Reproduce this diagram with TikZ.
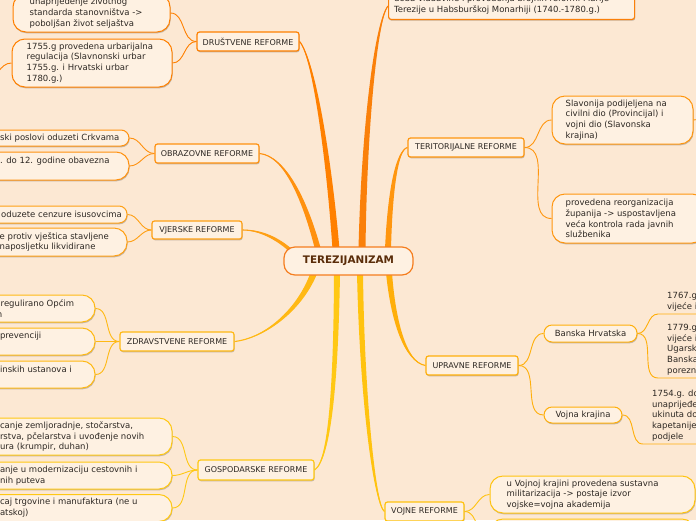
\documentclass[tikz,border=0pt]{standalone}
\usepackage{fontspec}
\setmainfont{DejaVu Sans}
\usetikzlibrary{calc,shadows}
\pgfdeclarelayer{back}
\pgfdeclarelayer{links}
\pgfsetlayers{back,links,main}
\definecolor{bgc}{RGB}{252,232,211}
\definecolor{boxfill}{RGB}{254,241,226}
\definecolor{txt}{RGB}{45,40,35}
\definecolor{ctxt}{RGB}{90,45,10}
\definecolor{cOr}{RGB}{245,125,30}
\definecolor{cDru}{RGB}{255,128,0}
\definecolor{cTop}{RGB}{250,128,10}
\definecolor{cObr}{RGB}{255,145,15}
\definecolor{cVje}{RGB}{255,160,20}
\definecolor{cTer}{RGB}{255,150,15}
\definecolor{cZdr}{RGB}{255,185,20}
\definecolor{cUpr}{RGB}{255,175,10}
\definecolor{cGos}{RGB}{255,200,20}
\definecolor{cVoj}{RGB}{255,195,15}
\tikzset{
  shadowed/.style={drop shadow={shadow xshift=0.6pt, shadow yshift=-1.3pt, opacity=0.22, fill=black}},
  mainbox/.style={draw=#1, line width=1.2pt, rounded corners=2.5pt, fill=boxfill, text=txt,
    font=\fontsize{8}{10}\selectfont, inner sep=0pt, shadowed},
  kidbox/.style={draw=#1, line width=1pt, rounded corners=13pt, fill=boxfill, inner sep=0pt, shadowed},
  pill/.style={draw=#1, line width=1pt, rounded corners=8pt, fill=boxfill, inner sep=0pt, shadowed,
    text=txt, font=\fontsize{8.5}{10.8}\selectfont},
  lbl/.style={anchor=west, inner sep=0pt, align=left, text=txt, font=\fontsize{8.5}{10.8}\selectfont},
  ulnode/.style={inner xsep=9pt, inner ysep=2.5pt, align=left, text=txt,
    font=\fontsize{8.5}{10.8}\selectfont, anchor=south west},
  conn/.style={draw=#1, line width=0.9pt},
}
% tapered branch: colour, root, control 1, control 2, end, half-width offset
\newcommand{\taper}[6]{%
  \fill[#1] ($(#2)+#6$) .. controls ($(#3)+0.8*#6$) and ($(#4)+0.4*#6$) .. (#5)
     .. controls ($(#4)-0.4*#6$) and ($(#3)-0.8*#6$) .. ($(#2)-#6$) -- cycle;
  \draw[#1, line width=1.1pt] (#2) .. controls (#3) and (#4) .. (#5);}
\begin{document}
\begin{tikzpicture}[x=1pt,y=-1pt]
\useasboundingbox (0,0) rectangle (696,520);
\begin{pgfonlayer}{back}
\fill[bgc] (0,0) rectangle (696,520);
\end{pgfonlayer}
\clip (0,0) rectangle (696,520);

% central
\node[draw=cOr, line width=1.2pt, rounded corners=11pt, fill=boxfill, minimum width=129pt,
  minimum height=28pt, inner sep=0pt, text=ctxt, font=\fontsize{10.4}{12}\selectfont\bfseries]
  (c) at (348.5,261) {TEREZIJANIZAM};

% main nodes
\node[mainbox=cDru, minimum width=102pt, minimum height=19pt] (dru) at (248,41.5) {DRUŠTVENE REFORME};
\node[mainbox=cObr, minimum width=104pt, minimum height=19pt] (obr) at (207,153.5) {OBRAZOVNE REFORME};
\node[mainbox=cVje, minimum width=90pt, minimum height=18pt] (vje) at (197,230) {VJERSKE REFORME};
\node[mainbox=cZdr, minimum width=114pt, minimum height=19pt] (zdr) at (177,341.5) {ZDRAVSTVENE REFORME};
\node[mainbox=cGos, minimum width=116pt, minimum height=20pt] (gos) at (256,470) {GOSPODARSKE REFORME};
\node[mainbox=cTer, minimum width=116pt, minimum height=19pt] (ter) at (466,147.5) {TERITORIJALNE REFORME};
\node[mainbox=cUpr, minimum width=92pt, minimum height=19pt] (upr) at (472,365.5) {UPRAVNE REFORME};
\node[mainbox=cVoj, minimum width=79pt, minimum height=19pt] (voj) at (424.5,511.5) {VOJNE REFORME};
\node[mainbox=cTop, minimum width=246pt, minimum height=32pt, anchor=south west] (top) at (388,20) {};
\node[lbl] (topt) at ([xshift=6pt, yshift=-1pt]top.west) {doba vladavine i provođenja brojnih reformi Marije\\Terezije u Habsburškoj Monarhiji (1740.-1780.g.)};

% DRUŠTVENE children
\node[kidbox=cDru, minimum width=157pt, minimum height=38pt] (d1) at (91.5,13) {};
\node[lbl] (d1t) at ([xshift=17pt]d1.west) {unaprijeđenje životnog\\standarda stanovništva ->\\poboljšan život seljaštva};
\node[kidbox=cDru, minimum width=160pt, minimum height=48pt] (d2) at (92,63) {};
\node[lbl] (d2t) at ([xshift=15pt]d2.west) {1755.g provedena urbarijalna\\regulacija (Slavnonski urbar\\1755.g. i Hrvatski urbar\\1780.g.)};
\coordinate (d2x) at (-15,80);

% OBRAZOVNE children
\node[kidbox=cObr, rounded corners=8pt, minimum width=189pt, minimum height=16pt] (o1) at (34.5,138) {};
\node[lbl] (o1t) at ([xshift=60.5pt]o1.west) {ski poslovi oduzeti Crkvama};
\node[kidbox=cObr, minimum width=189pt, minimum height=28pt] (o2) at (34.5,166) {};
\node[lbl] (o2t) at ([xshift=60.3pt, yshift=5pt]o2.west) {. do 12. godine obavezna};

% VJERSKE children
\node[kidbox=cVje, rounded corners=8pt, minimum width=187pt, minimum height=17pt] (v1) at (33.5,214.5) {};
\node[lbl] (v1t) at ([xshift=61.5pt]v1.west) {oduzete cenzure isusovcima};
\node[kidbox=cVje, minimum width=187pt, minimum height=28pt] (v2) at (33.5,242) {};
\node[lbl] (v2t) at ([xshift=60pt]v2.west) {e protiv vještica stavljene\\naposljetku likvidirane};

% ZDRAVSTVENE children
\node[kidbox=cZdr, minimum width=175pt, minimum height=27pt] (z1) at (7.5,308.5) {};
\node[lbl] (z1t) at ([xshift=81pt]z1.west) {regulirano Općim\\\hspace*{-3.7pt}n};
\node[kidbox=cZdr, minimum width=175pt, minimum height=27pt] (z2) at (7.5,341.5) {};
\node[lbl] (z2t) at ([xshift=80.3pt, yshift=5.5pt]z2.west) {prevenciji};
\node[kidbox=cZdr, minimum width=175pt, minimum height=27pt] (z3) at (7.5,374.5) {};
\node[lbl] (z3t) at ([xshift=80.3pt, yshift=5.5pt]z3.west) {inskih ustanova i};

% GOSPODARSKE children
\node[kidbox=cGos, minimum width=252pt, minimum height=37pt] (g1) at (46,436.5) {};
\node[lbl] (g1t) at ([xshift=80.3pt]g1.west) {canje zemljoradnje, stočarstva,\\rstva, pčelarstva i uvođenje novih\\ura (krumpir, duhan)};
\node[kidbox=cGos, minimum width=252pt, minimum height=27pt] (g2) at (46,475.5) {};
\node[lbl] (g2t) at ([xshift=80.3pt]g2.west) {anje u modernizaciju cestovnih i\\nih puteva};
\node[kidbox=cGos, minimum width=252pt, minimum height=27pt] (g3) at (46,508) {};
\node[lbl] (g3t) at ([xshift=80.3pt]g3.west) {caj trgovine i manufaktura (ne u\\atskoj)};

% TERITORIJALNE children
\node[kidbox=cTer, minimum width=141pt, minimum height=48pt] (t1) at (622.5,120) {};
\node[lbl] (t1t) at ([xshift=14pt]t1.west) {Slavonija podijeljena na\\civilni dio (Provincijal) i\\vojni dio (Slavonska\\krajina)};
\node[kidbox=cTer, minimum width=153pt, minimum height=49pt] (t2) at (628.5,218.5) {};
\node[lbl] (t2t) at ([xshift=14pt]t2.west) {provedena reorganizacija\\županija -> uspostavljena\\veća kontrola rada javnih\\službenika};
\coordinate (t1x) at (712,116);

% UPRAVNE children
\node[pill=cUpr, minimum width=93pt, minimum height=17pt] (ban) at (590.5,333.5) {Banska Hrvatska};
\node[pill=cUpr, minimum width=78pt, minimum height=16pt] (vkr) at (583,415) {Vojna krajina};
\node[ulnode] (bh1) at (658,314) {1767.g.\\vijeće i};
\node[ulnode] (bh2) at (658,378) {1779.g.\\vijeće i\\Ugarsk\\Banska\\porezn};
\node[ulnode] (vk1) at (643,444) {1754.g. do\\unaprijeđe\\ukinuta do\\kapetanije\\podjele};

% VOJNE children
\node[kidbox=cVoj, minimum width=205pt, minimum height=37pt] (vc1) at (592.5,494.5) {};
\node[lbl] (vc1t) at ([xshift=17pt]vc1.west) {u Vojnoj krajini provedena sustavna\\militarizacija -> postaje izvor\\vojske=vojna akademija};
\node[kidbox=cVoj, minimum width=205pt, minimum height=40pt] (vc2) at (592.5,539) {};

% roots on the central node
\coordinate (rDru) at ($(c.north)+(-12.5,3)$);
\coordinate (rTop) at ($(c.north)+(13.5,3)$);
\coordinate (rObr) at ($(c.north)+(-30.5,3)$);
\coordinate (rVje) at ($(c.north)+(-54.5,7)$);
\coordinate (rTer) at ($(c.north)+(39.5,3)$);
\coordinate (rZdr) at ($(c.south)+(-34.5,-3)$);
\coordinate (rGos) at ($(c.south)+(-11.5,-3)$);
\coordinate (rVoj) at ($(c.south)+(11.5,-3)$);
\coordinate (rUpr) at ($(c.south)+(40.5,-3)$);
\coordinate (topin) at ($(top.south west)+(0,-14)$);

\begin{pgfonlayer}{links}
\clip (0,0) rectangle (696,520);
\taper{cDru}{rDru}{330,170}{315,60}{dru.east}{(3.5,0)}
\taper{cTop}{rTop}{364,130}{376,20}{topin}{(3.5,0)}
\taper{cObr}{rObr}{305,200}{285,156}{obr.east}{(3,0)}
\taper{cVje}{rVje}{280,240}{262,230}{vje.east}{(0,2.5)}
\taper{cTer}{rTer}{390,190}{397,150}{ter.west}{(3,0)}
\taper{cZdr}{rZdr}{300,310}{265,338}{zdr.east}{(3.5,0)}
\taper{cGos}{rGos}{336,380}{330,460}{gos.east}{(3,0)}
\taper{cVoj}{rVoj}{362,400}{375,505}{voj.west}{(3,0)}
\taper{cUpr}{rUpr}{393,320}{405,362}{upr.west}{(3,0)}

\draw[conn=cDru] (dru.west) to[out=180,in=0] (d1.east);
\draw[conn=cDru] (dru.west) to[out=180,in=0] (d2.east);
\draw[conn=cDru] (d2.west) to[out=180,in=0] (d2x);
\draw[conn=cObr] (obr.west) to[out=180,in=0] (o1.east);
\draw[conn=cObr] (obr.west) to[out=180,in=0] (o2.east);
\draw[conn=cVje] (vje.west) to[out=180,in=0] (v1.east);
\draw[conn=cVje] (vje.west) to[out=180,in=0] (v2.east);
\draw[conn=cZdr] (zdr.west) to[out=180,in=0] (z1.east);
\draw[conn=cZdr] (zdr.west) to[out=180,in=0] (z2.east);
\draw[conn=cZdr] (zdr.west) to[out=180,in=0] (z3.east);
\draw[conn=cGos] (gos.west) to[out=180,in=0] (g1.east);
\draw[conn=cGos] (gos.west) to[out=180,in=0] (g2.east);
\draw[conn=cGos] (gos.west) to[out=180,in=0] (g3.east);
\draw[conn=cTer] (ter.east) to[out=0,in=180] (t1.west);
\draw[conn=cTer] (ter.east) to[out=0,in=180] (t2.west);
\draw[conn=cTer] (t1.east) to[out=0,in=180] (t1x);
\draw[conn=cUpr] (upr.east) to[out=0,in=180] (ban.west);
\draw[conn=cUpr] (upr.east) to[out=0,in=180] (vkr.west);
\draw[conn=cUpr] (ban.east) to[out=0,in=180] (bh1.south west) -- (bh1.south east);
\draw[conn=cUpr] (ban.east) to[out=0,in=180] (bh2.south west) -- (bh2.south east);
\draw[conn=cUpr] (vkr.east) to[out=0,in=180] (vk1.south west) -- (vk1.south east);
\draw[conn=cVoj] (voj.east) to[out=0,in=180] (vc1.west);
\draw[conn=cVoj] (voj.east) to[out=0,in=180] (vc2.west);
\end{pgfonlayer}
\end{tikzpicture}
\end{document}
